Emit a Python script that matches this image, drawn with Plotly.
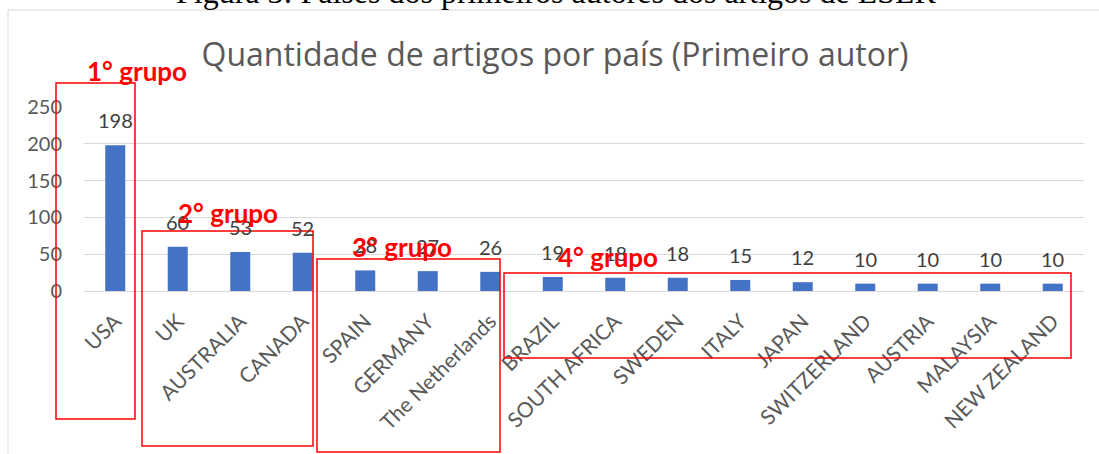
import plotly.graph_objects as go

countries = ["USA", "UK", "AUSTRALIA", "CANADA", "SPAIN", "GERMANY", "The Netherlands",
             "BRAZIL", "SOUTH AFRICA", "SWEDEN", "ITALY", "JAPAN", "SWITZERLAND",
             "AUSTRIA", "MALAYSIA", "NEW ZEALAND"]
articles = [198, 60, 53, 52, 28, 27, 26, 19, 18, 18, 15, 12, 10, 10, 10, 10]
y_ticks = [0, 50, 100, 150, 200, 250]

title_text = "Quantidade de artigos por país (Primeiro autor)"
caption_text = "Figura 3: Países dos primeiros autores dos artigos de LSLR"
group_labels = ["1° grupo", "2° grupo", "3° grupo", "4° grupo"]

W, H = 1099, 454
L, R, T, B = 84, 15, 107, 163
PW, PH = W - L - R, H - T - B


def px(x):
    return (x - L) / PW


def py(y):
    return (H - B - y) / PH


fig = go.Figure()
fig.add_trace(go.Bar(
    x=countries, y=articles,
    marker=dict(color="#4472C4", line=dict(width=0)),
    hoverinfo="x+y",
))

annotations = []
for c, v in zip(countries, articles):
    annotations.append(dict(
        x=c, y=v, xref="x", yref="y", text=str(v), showarrow=False,
        yanchor="middle", yshift=25,
        font=dict(family="Lato", size=20, color="#404040"),
    ))

# group boxes (pixel geometry of the annotation overlay)
boxes = [(56, 83, 135, 419), (142, 231, 313, 446), (317, 259, 500, 452), (504, 273, 1071, 358)]
label_pos = [(137, 71), (228, 213), (402, 247), (608, 257)]

shapes = []
for (x0, y0, x1, y1) in boxes:
    shapes.append(dict(type="rect", xref="paper", yref="paper",
                       x0=px(x0), x1=px(x1), y0=py(y1), y1=py(y0),
                       line=dict(color="#FF0000", width=1.5), layer="above"))
for lab, (x, y) in zip(group_labels, label_pos):
    annotations.append(dict(
        x=px(x), y=py(y), xref="paper", yref="paper", text="<b>" + lab + "</b>",
        showarrow=False, xanchor="center", yanchor="middle",
        font=dict(family="Lato", size=26, color="#FF0000"),
    ))

# chart frame
shapes.append(dict(type="rect", xref="paper", yref="paper",
                   x0=px(8), x1=px(1300), y0=py(700), y1=py(10),
                   line=dict(color="#D9D9D9", width=1), layer="below"))

# caption (partially cut off at the top)
annotations.append(dict(
    x=px(174), y=py(-8), xref="paper", yref="paper", text=caption_text,
    showarrow=False, xanchor="left", yanchor="middle",
    font=dict(family="Liberation Serif", size=32, color="#000000"),
))

fig.update_layout(
    width=W, height=H,
    margin=dict(l=L, r=R, t=T, b=B, autoexpand=False),
    paper_bgcolor="white", plot_bgcolor="white",
    showlegend=False,
    bargap=0.68,
    title=dict(text=title_text, x=px(555), xref="paper", xanchor="center",
               y=1 - 55 / H, yref="container", yanchor="middle",
               font=dict(family="Open Sans", size=32, color="#595959")),
    xaxis=dict(tickangle=-45, showgrid=False, showline=False, ticks="",
               tickfont=dict(family="Lato", size=21, color="#595959"),
               ticklabelstandoff=13),
    yaxis=dict(range=[0, 250], tickvals=y_ticks, showgrid=True, gridcolor="#D9D9D9",
               gridwidth=1, zeroline=True, zerolinecolor="#D9D9D9", zerolinewidth=1,
               showline=False, ticks="", ticklabelstandoff=21,
               tickfont=dict(family="Lato", size=20, color="#595959")),
    annotations=annotations,
    shapes=shapes,
)

fig.write_html(
    "out.html",
    config={"displayModeBar": False},
    post_script="document.body.style.margin='0';document.body.style.overflow='hidden';",
)
